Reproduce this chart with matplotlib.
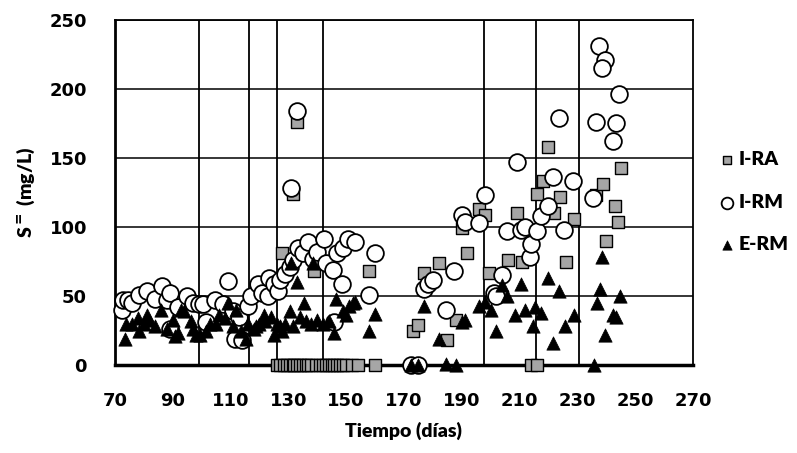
import matplotlib
matplotlib.use('Agg')
import matplotlib.pyplot as plt

plt.rcParams['font.family'] = ['Lato', 'DejaVu Sans']

# I-RA (squares)
ra_day = [126, 127, 128.5, 129.5, 130.5, 131.5, 132, 133, 134, 135, 136, 137, 138, 139.5,
          141, 142, 143, 144, 145, 146, 147, 148, 149, 150, 152, 154, 160, 214, 216,
          128, 131.5, 133, 138.8, 158, 173, 175, 177, 182, 185, 188, 190, 192, 196, 198,
          199.5, 206, 209, 211, 216, 218, 220, 222, 224, 226, 229, 236.5, 239, 240,
          243, 244, 245]
ra_val = [0, 0, 0, 0, 0, 0, 0, 0, 0, 0, 0, 0, 0, 0,
          0, 0, 0, 0, 0, 0, 0, 0, 0, 0, 0, 0, 0, 0, 0,
          81, 124, 176, 68, 68, 25, 29, 67, 74, 18, 33, 99, 81, 113, 109,
          67, 76, 110, 75, 124, 133, 158, 110, 122, 75, 106, 123, 131, 90,
          115, 104, 143]

# I-RM (circles)
rm_day = [72.5, 73, 74.5, 76, 78.5, 81, 84, 86.5, 88, 89, 89, 92, 95, 97, 99, 100.5,
          101.5, 104.5, 107.5, 109, 111, 111.5, 114, 113, 116, 117, 119.5, 121, 123,
          123.5, 125, 126.5, 127, 129, 130.5, 131.5, 131, 133, 133.5, 135, 137, 138.5,
          140, 142.5, 143, 145.5, 146, 147, 148.5, 149, 150.5, 153, 158, 160,
          172.5, 175, 177, 178.5, 180, 184.5, 187.5, 190, 191, 196, 198, 201, 202,
          204, 205.5, 209, 210.5, 212, 213.5, 214, 216, 217.5, 220, 221.5, 223.5,
          225.5, 228.5, 235.5, 236.5, 237.5, 239.5, 238.5, 244.5, 243.5, 242.5]
rm_val = [40, 47, 47, 45, 51, 54, 48, 57, 47, 52, 26, 42, 50, 45, 44, 44,
          31, 47, 44, 61, 39, 19, 18, 35, 43, 50, 59, 52, 50,
          63, 59, 54, 62, 66, 71, 76, 128, 184, 85, 81, 89, 77,
          82, 91, 74, 69, 31, 81, 59, 85, 91, 89, 51, 81,
          0, 0, 55, 59, 62, 40, 68, 109, 104, 103, 123, 52, 50,
          65, 97, 147, 98, 100, 78, 88, 97, 108, 115, 136, 179,
          98, 133, 121, 176, 231, 221, 215, 196, 175, 162]

# E-RM (triangles)
em_day = [73.5, 74, 76, 78, 78.5, 80, 81, 82, 84, 86, 88, 90, 91, 92, 93, 94, 96.5, 97,
          98, 99.5, 101.5, 103, 105, 106, 108, 109, 111, 112, 113.5, 115.5, 116, 118,
          119, 120, 121.5, 122, 124, 125, 126, 127, 128, 129, 130.5, 131, 131.5, 133,
          134, 135.5, 136, 138, 138.6, 140, 142, 144, 146, 146.5, 149, 150, 151, 152.5,
          153, 158, 160, 172.5, 175, 177, 182, 184.5, 188, 190, 191, 196, 198, 200,
          202, 204, 205.5, 208.5, 210.5, 212, 214.5, 215.5, 217.5, 220, 221.5, 223.8,
          225.7, 228.7, 235.7, 236.7, 237.8, 238.7, 239.7, 242.4, 243.2, 244.7]
em_val = [19, 30, 30, 34, 25, 30, 36, 33, 28, 40, 26, 33, 21, 23, 40, 39, 32, 26,
          22, 22, 25, 30, 30, 36, 34, 45, 28, 40, 25, 19, 30, 26,
          28, 30, 36, 32, 35, 22, 30, 28, 25, 30, 39, 74, 28, 60,
          35, 45, 32, 30, 74, 33, 30, 32, 23, 48, 39, 36, 43, 45,
          46, 25, 37, 0, 0, 43, 19, 1, 0, 31, 33, 43, 46, 40,
          25, 58, 50, 36, 59, 40, 28, 42, 38, 63, 16, 54,
          28, 36, 0, 45, 55, 78, 22, 36, 35, 50]

# vertical phase lines
phase_days = [99, 116.3, 126.2, 142.1, 197.8, 215.8, 230.7]

fig = plt.figure(figsize=(7.97, 4.53), dpi=100)
ax = fig.add_axes([0.144, 0.194, 0.7255, 0.762])

ax.set_xlim(70, 270)
ax.set_ylim(0, 250)
ax.set_xticks(range(70, 271, 20))
ax.set_yticks(range(0, 251, 50))

ax.grid(axis='y', color='black', linewidth=1.1, zorder=0)
for d in phase_days:
    ax.axvline(d, color='black', linewidth=1.3, zorder=0)

ax.scatter(ra_day, ra_val, marker='s', s=72, c='#a6a6a6', edgecolors='black',
           linewidths=1.0, label='I-RA', zorder=3, clip_on=False)
ax.scatter(rm_day, rm_val, marker='o', s=145, c='white', edgecolors='black',
           linewidths=1.3, label='I-RM', zorder=4, clip_on=False)
ax.scatter(em_day, em_val, marker='^', s=92, c='black', edgecolors='black',
           linewidths=0.5, label='E-RM', zorder=5, clip_on=False)

for side in ['top', 'right']:
    ax.spines[side].set_linewidth(1.3)
ax.spines['left'].set_linewidth(2.0)
ax.spines['bottom'].set_linewidth(2.5)
ax.spines['bottom'].set_zorder(2)

tick_font = {'family': ['DejaVu Sans'], 'weight': 'bold', 'size': 13}
ax.tick_params(length=0)
ax.tick_params(axis='x', pad=19)
ax.tick_params(axis='y', pad=20)
for lbl in ax.get_xticklabels() + ax.get_yticklabels():
    lbl.set_fontproperties(tick_font)

ax.set_xlabel('Tiempo (días)', fontsize=14, fontweight='heavy', labelpad=9)
ax.set_ylabel(r'S$^{\mathbf{=}}$ (mg/L)', fontsize=14, fontweight='heavy', labelpad=9)

leg = ax.legend(loc='center left', bbox_to_anchor=(1.025, 0.472), frameon=False,
                prop={'size': 14, 'weight': 'heavy'}, labelspacing=1.3,
                handletextpad=0.1, borderpad=0, handlelength=1.0, markerscale=0.7)

fig.savefig('out.png', dpi=100)
